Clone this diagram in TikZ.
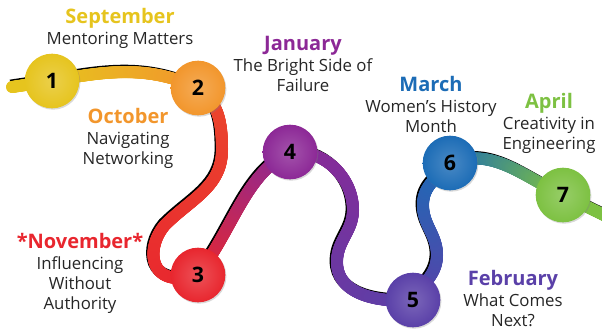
\documentclass[tikz,border=0pt]{standalone}
\usepackage{fontspec}
\setmainfont{Open Sans}
\usepackage{xcolor}
\usetikzlibrary{decorations.markings,shadows,backgrounds}

\definecolor{csep}{HTML}{E6C41E}
\definecolor{coct}{HTML}{F2962C}
\definecolor{cnov}{HTML}{E8262E}
\definecolor{cjan}{HTML}{8C2896}
\definecolor{cfeb}{HTML}{5A40A8}
\definecolor{cmar}{HTML}{1C6CB6}
\definecolor{capr}{HTML}{7DC142}
\colorlet{coctred}{cnov!70!coct}

\newcommand\numfont{\fontsize{16}{18}\selectfont\bfseries}
\newcommand\headfont{\fontsize{15}{16}\selectfont\bfseries}
\newcommand\bodyfont{\fontsize{12.6}{15}\selectfont}

\tikzset{
  milestone/.style={circle,minimum size=41pt,inner sep=0pt,
    inner color=#1!80!white,outer color=#1,font=\numfont,
    drop shadow={opacity=.3,shadow xshift=.8pt,shadow yshift=-1pt}},
  road/.style 2 args={
    preaction={draw=black,line width=9pt,transform canvas={shift={(-1.4,-1.4)}}},
    postaction={decorate,decoration={markings,
      mark=between positions 0 and 1 step 0.5pt with {
        \pgfmathtruncatemacro\mixpc{\pgfkeysvalueof{/pgf/decoration/mark info/distance from start}/\pgfdecoratedpathlength*100}
        \fill[#2!\mixpc!#1] (0,0) circle (4.5pt);}}}},
  caption/.style={align=center,anchor=north,inner sep=0pt,font=\bodyfont,text=black!85}
}

\begin{document}
\begin{tikzpicture}[x=0.75pt,y=-0.75pt]
\useasboundingbox (0,0) rectangle (602,330);

% the stations
\foreach \n/\c/\x/\y in {1/csep/52/81, 2/coct/198/88, 3/cnov/198/275, 4/cjan/290/152,
                         5/cfeb/413/300, 6/cmar/450/163, 7/capr/563/195}
  {\node[milestone=\c] (s\n) at (\x,\y) {\n};}

% the road between them
\begin{scope}[on background layer]
\path[road={csep}{csep}] (12,87) -- (s1.center);
\path[road={csep}{coct}] (s1.center) .. controls (110,70) and (150,66) .. (s2.center);
\path[road={coctred}{cnov}] (s2.center) to[out=-35,in=90] (222,150) to[out=-90,in=45] (165,225)
   .. controls (145,248) and (148,290) .. (s3.center);
\path[road={cnov}{cjan}] (s3.center) .. controls (235,225) and (245,175) .. (s4.center);
\path[road={cjan}{cfeb}] (s4.center) to[out=5,in=90] (353,210) to[out=-90,in=90] (337,262)
   to[out=-90,in=185] (s5.center);
\path[road={cfeb}{cmar}] (s5.center) to[out=60,in=-90] (437,255) to[out=90,in=-90] (423,205)
   to[out=90,in=-130] (s6.center);
\path[road={cmar}{capr}] (s6.center) to[out=20,in=155] (s7.center);
\path[road={capr}{capr}] (s7.center) -- (612,219);
\end{scope}

% months
\node[caption] (t1) at (120,8) {{\headfont\color{csep}September}\\[1pt]Mentoring Matters};
\node[caption] (t2) at (128,108) {{\headfont\color{coct}October}\\[1pt]Navigating\\Networking};
\node[caption] (t3) at (80,233) {{\headfont\color{cnov}*November*}\\[1pt]Influencing\\Without\\Authority};
\node[caption] (t4) at (303,36) {{\headfont\color{cjan}January}\\[1pt]The Bright Side of\\Failure};
\node[caption] (t5) at (513,270) {{\headfont\color{cfeb}February}\\[1pt]What Comes\\Next?};
\node[caption] (t6) at (431,76) {{\headfont\color{cmar}March}\\[1pt]Women’s History\\Month};
\node[caption] (t7) at (549,93) {{\headfont\color{capr}April}\\[1pt]Creativity in\\Engineering};
\end{tikzpicture}
\end{document}
